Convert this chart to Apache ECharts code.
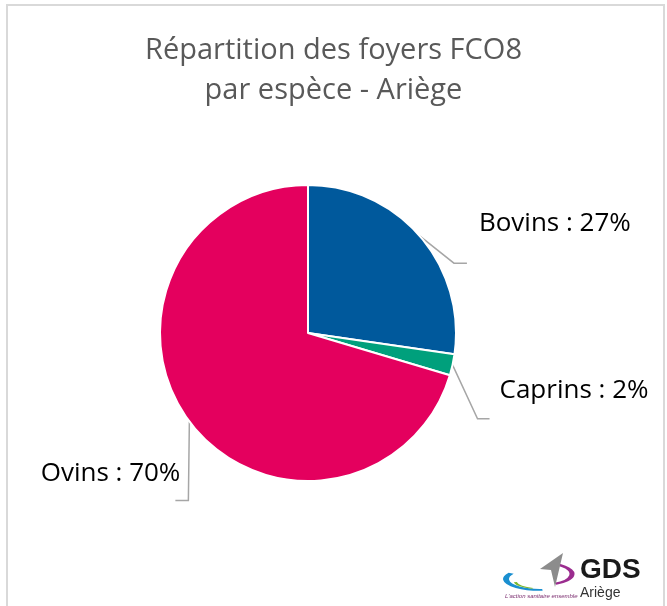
<!DOCTYPE html>
<html>
<head>
<meta charset="utf-8">
<script src="https://cdn.jsdelivr.net/npm/echarts@6/dist/echarts.min.js"></script>
<style>
  html, body { margin: 0; padding: 0; background: #fff; }
  #chart { width: 667px; height: 606px; }
</style>
</head>
<body>
<div id="chart"></div>
<script>
const especes = ['Bovins', 'Caprins', 'Ovins'];
const parts = [27.3, 2.3, 70.4];
const couleurs = ['#00599c', '#00a07c', '#e4005e'];

// leader line / label offsets from the slice edge point (Excel-like placement)
const leaderStyle = [
    { bend: [34, 27], tail: 13, text: [59, -13], align: 'left' },
    { bend: [25, 54], tail: 12, text: [47, 26], align: 'left' },
    { bend: [-1, 79], tail: -13, text: [-9, 52], align: 'right' }
];

let myChart;

window.onload = function () {
    myChart = echarts.init(document.getElementById('chart'));
    myChart.setOption(option);
};

const option = {
    animation: false,
    title: {
        text: 'Répartition des foyers FCO8\npar espèce - Ariège',
        left: 'center',
        top: 26,
        textStyle: {
            color: '#595959',
            fontSize: 29,
            fontWeight: 'normal',
            fontFamily: 'Open Sans',
            lineHeight: 40
        }
    },
    graphic: [
        {
            type: 'rect',
            shape: { x: 7, y: 5, width: 657, height: 620 },
            style: { fill: 'none', stroke: '#d9d9d9', lineWidth: 2 },
            silent: true
        },
        // small GDS logo, bottom right
        { type: 'arc', shape: { cx: 540, cy: 579, r: 34, startAngle: 1.5, endAngle: 3.7 },
          originX: 540, originY: 579, scaleY: 0.32,
          style: { stroke: '#1a8fd0', lineWidth: 6, fill: 'none', strokeNoScale: true } },
        { type: 'arc', shape: { cx: 541, cy: 581, r: 26, startAngle: 1.9, endAngle: 3.0 },
          originX: 541, originY: 581, scaleY: 0.3,
          style: { stroke: '#7cb82f', lineWidth: 3, fill: 'none', strokeNoScale: true } },
        { type: 'arc', shape: { cx: 546, cy: 574, r: 26, startAngle: -1.4, endAngle: 1.2 },
          originX: 546, originY: 574, scaleY: 0.4,
          style: { stroke: '#9b2c8f', lineWidth: 5, fill: 'none', strokeNoScale: true } },
        { type: 'polygon', shape: { points: [[563, 553], [540, 569], [551, 570], [555, 587]] },
          style: { fill: '#8c8c8c' } },
        { type: 'text', x: 505, y: 593,
          style: { text: "L'action sanitaire ensemble", fontSize: 6, fontStyle: 'italic', fill: '#7a2b6e', fontFamily: 'Liberation Sans' } },
        { type: 'text', x: 580, y: 556,
          style: { text: 'GDS', fontSize: 28, fontWeight: 'bold', fill: '#1a1a1a', fontFamily: 'Liberation Sans' } },
        { type: 'text', x: 580, y: 586,
          style: { text: 'Ariège', fontSize: 14, fill: '#333', fontFamily: 'Liberation Sans' } }
    ],
    series: [
        {
            type: 'pie',
            center: [308, 333],
            radius: 148,
            startAngle: 90,
            clockwise: true,
            itemStyle: { borderColor: '#fff', borderWidth: 2 },
            label: {
                show: true,
                color: '#000',
                fontSize: 26,
                fontFamily: 'Open Sans',
                overflow: 'none',
                formatter: function (p) {
                    return p.name + ' : ' + Math.round(p.percent) + '%';
                }
            },
            labelLine: {
                show: true,
                length: 30,
                length2: 12,
                lineStyle: { color: '#a6a6a6', width: 1.5 }
            },
            labelLayout: function (params) {
                const s = leaderStyle[params.dataIndex];
                const p0 = params.labelLinePoints[0];
                const p1 = [p0[0] + s.bend[0], p0[1] + s.bend[1]];
                const p2 = [p1[0] + s.tail, p1[1]];
                return {
                    x: p0[0] + s.text[0],
                    y: p0[1] + s.text[1],
                    align: s.align,
                    verticalAlign: 'middle',
                    labelLinePoints: [p0, p1, p2]
                };
            },
            data: especes.map(function (name, i) {
                return { name: name, value: parts[i], itemStyle: { color: couleurs[i] } };
            })
        }
    ]
};
</script>
</body>
</html>
